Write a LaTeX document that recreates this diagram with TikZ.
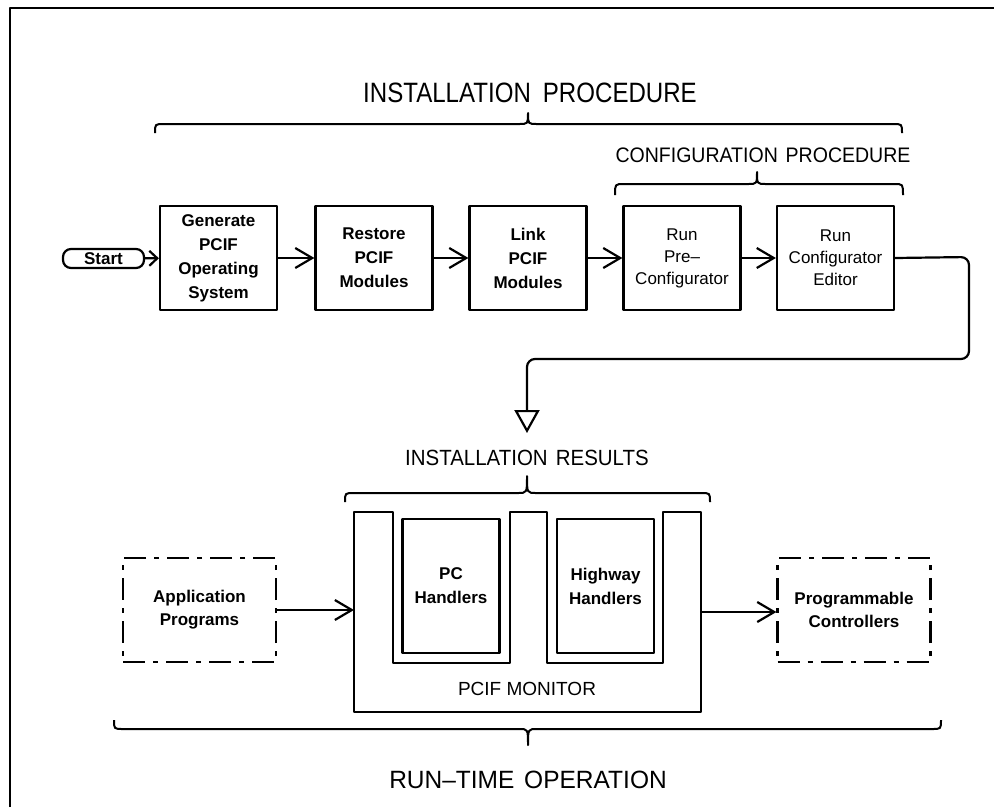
\documentclass[tikz,border=0pt]{standalone}
\usepackage{fontspec}
\setmainfont{Liberation Sans}
\usetikzlibrary{arrows.meta}

% horizontally condensed heading text: size, x-scale, text
\newcommand{\headtext}[3]{\scalebox{#2}[1]{\fontsize{#1}{#1}\selectfont #3}}
% curly brace: left x, right x, end y, bar y, cusp y, cusp x
\newcommand{\curlybrace}[6]{%
  \draw[line width=2pt] (#1,#3) .. controls (#1,#4) .. (#1+9,#4) -- (#6-9,#4)
    .. controls (#6,#4) .. (#6,#5) .. controls (#6,#4) .. (#6+9,#4)
    -- (#2-9,#4) .. controls (#2,#4) .. (#2,#3);}

\begin{document}
\begin{tikzpicture}[x=1pt,y=-1pt,line width=2.2pt,line join=round,
  stepbox/.style={draw,minimum width=117pt,minimum height=104pt,inner sep=0pt,
    align=center,font=\fontsize{17}{24}\selectfont\bfseries},
  thinbox/.style={stepbox,font=\fontsize{17}{22}\selectfont},
  hbox/.style={draw,minimum width=97pt,minimum height=134pt,inner sep=0pt,
    align=center,font=\fontsize{17}{24}\selectfont\bfseries},
  extbox/.style={draw,dash pattern=on 22pt off 8pt on 5pt off 8pt,
    minimum width=153pt,minimum height=104pt,inner sep=0pt,align=center,
    font=\fontsize{17}{23}\selectfont\bfseries},
  arr/.style={-{Straight Barb[length=17pt,width=20pt]}},
  heading/.style={inner sep=0pt,anchor=center}]

\useasboundingbox (0,0) rectangle (994,807);

% page frame
\draw[line width=2.5pt] (10,807) -- (10,8) -- (994,8);

% installation steps
\node[draw,rounded corners=8pt,minimum width=81pt,minimum height=19pt,inner sep=0pt,
  font=\fontsize{17}{17}\selectfont\bfseries] (start) at (103.5,258.5) {Start};
\node[stepbox] (gen) at (218.5,258) {Generate\\PCIF\\Operating\\System};
\node[stepbox] (rest) at (374,258) {Restore\\PCIF\\Modules};
\node[stepbox] (link) at (528,258) {Link\\PCIF\\Modules};
\node[thinbox] (pre) at (682,258) {Run\\Pre–\\Configurator};
\node[thinbox] (edit) at (835.5,258) {Run\\Configurator\\Editor};

\draw[-{Straight Barb[length=8pt,width=15pt]}] (start) -- (gen);
\draw[arr] (gen) -- (rest);
\draw[arr] (rest) -- (link);
\draw[arr] (link) -- (pre);
\draw[arr] (pre) -- (edit);

% result of the installation
\coordinate (res) at (527,433);
\draw[rounded corners=8pt,-{Triangle[open,length=23pt,width=25pt]}]
  (edit.east) -- (969,257) -- (969,359) -- (527,359) -- (res);

% headings and braces
\node[heading] (hinst) at (530,93) {\headtext{28}{0.86}{INSTALLATION\hspace{0.5em}PROCEDURE}};
\curlybrace{155}{902}{133}{124}{113}{528}
\node[heading] (hconf) at (763,155) {\headtext{21}{0.93}{CONFIGURATION\hspace{0.4em}PROCEDURE}};
\curlybrace{615}{903}{195}{184}{172}{757}
\node[heading] (hres) at (527,458) {\headtext{22}{0.93}{INSTALLATION\hspace{0.4em}RESULTS}};
\curlybrace{345}{710}{502}{493}{476}{527}
\curlybrace{114}{941}{720}{729}{745}{528}
\node[heading] (hrun) at (528,780) {\headtext{25}{0.98}{RUN–TIME\hspace{0.4em}OPERATION}};

% PCIF monitor with its two handler slots
\node[minimum width=347pt,minimum height=200pt,inner sep=0pt,outer sep=0pt] (mon) at (527.5,612) {};
\draw (354,512) -- (393,512) -- (393,663) -- (510,663) -- (510,512) -- (547,512)
  -- (547,663) -- (663,663) -- (663,512) -- (701,512) -- (701,712) -- (354,712) -- cycle;
\node[hbox] (pch) at (451,586) {PC\\Handlers};
\node[hbox] (hwh) at (605.5,586) {Highway\\Handlers};
\node[inner sep=0pt,font=\fontsize{19}{19}\selectfont] (monlbl) at (527,689) {PCIF MONITOR};

% external parts
\node[extbox] (app) at (199.5,610) {Application\\Programs};
\node[extbox] (prog) at (854,610) {Programmable\\Controllers};
\draw[arr] (app.east) -- (app.east -| mon.west);
\draw[arr] (mon.east) -- (mon.east -| prog.west);

\end{tikzpicture}
\end{document}
